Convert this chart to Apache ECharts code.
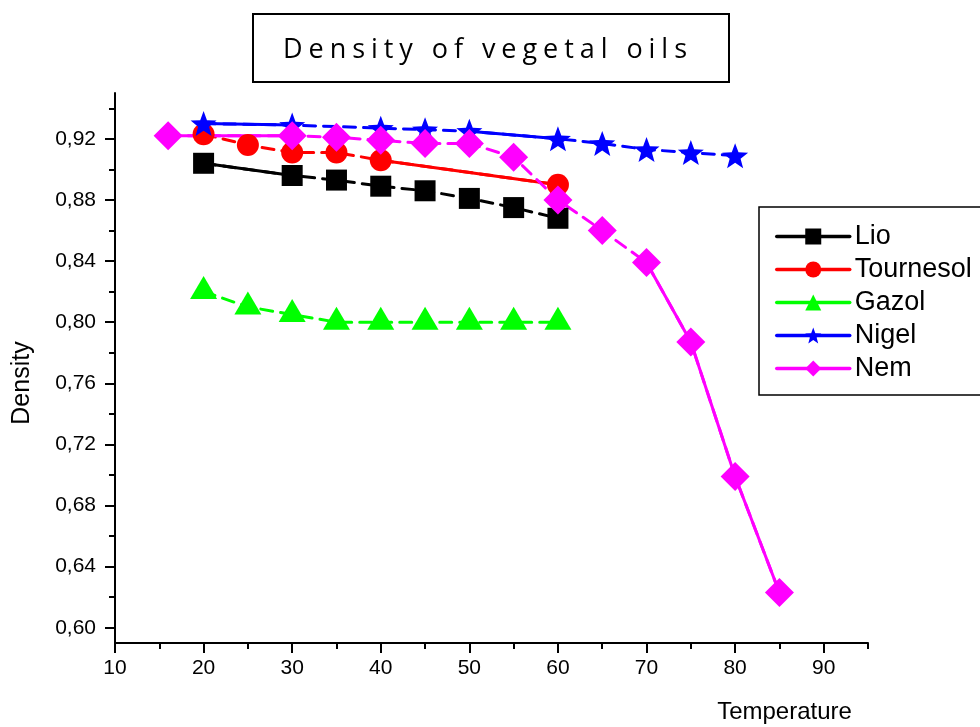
<!DOCTYPE html>
<html>
<head>
<meta charset="utf-8">
<script src="https://cdn.jsdelivr.net/npm/echarts@6/dist/echarts.min.js"></script>
<style>
html,body{margin:0;padding:0;background:#fff;}
#chart{width:980px;height:727px;}
</style>
</head>
<body>
<div id="chart"></div>
<script>
// ---- data ----
const seriesNames = ['Lio', 'Tournesol', 'Gazol', 'Nigel', 'Nem'];
const lioT  = [20, 30, 35, 40, 45, 50, 55, 60];
const lioD  = [0.904, 0.896, 0.893, 0.889, 0.886, 0.881, 0.875, 0.868];
const tourT = [20, 25, 30, 35, 40, 60];
const tourD = [0.923, 0.916, 0.911, 0.911, 0.906, 0.890];
const gazT  = [20, 25, 30, 35, 40, 45, 50, 55, 60];
const gazD  = [0.820, 0.810, 0.805, 0.800, 0.800, 0.800, 0.800, 0.800, 0.800];
const nigT  = [20, 30, 40, 45, 50, 60, 65, 70, 75, 80];
const nigD  = [0.930, 0.929, 0.927, 0.926, 0.925, 0.920, 0.917, 0.913, 0.911, 0.909];
const nemT  = [16, 30, 35, 40, 45, 50, 55, 60, 65, 70, 75, 80, 85];
const nemD  = [0.922, 0.922, 0.921, 0.919, 0.917, 0.917, 0.908, 0.880, 0.860, 0.839, 0.787, 0.699, 0.623];

const xTicks = [10, 20, 30, 40, 50, 60, 70, 80, 90];
const xMinorTicks = [15, 25, 35, 45, 55, 65, 75, 85, 95];
const yTicks = [0.60, 0.64, 0.68, 0.72, 0.76, 0.80, 0.84, 0.88, 0.92];
const yMinorTicks = [0.62, 0.66, 0.70, 0.74, 0.78, 0.82, 0.86, 0.90, 0.94];

const titleText = 'Density of vegetal oils';
const xName = 'Temperature';
const yName = 'Density';

// ---- styles ----
const STAR = 'path://M50 0L62.34 33.01L97.55 34.55L69.97 56.49L79.39 90.45L50 71L20.61 90.45L30.03 56.49L2.45 34.55L37.66 33.01Z';
const styleMap = {
  Lio:       {color: '#000000', symbol: 'rect',     size: 21,       offset: [0, 0],  solid: [[20, 30]]},
  Tournesol: {color: '#ff0000', symbol: 'circle',   size: 22,       offset: [0, 0],  solid: [[40, 60]]},
  Gazol:     {color: '#00ff00', symbol: 'triangle', size: [27, 23], offset: [0, -4], solid: []},
  Nigel:     {color: '#0000ff', symbol: STAR,       size: [26, 25], offset: [0, 0],  solid: [[20, 30], [50, 60]]},
  Nem:       {color: '#ff00ff', symbol: 'diamond',  size: 29,       offset: [0, 0],  solid: [[16, 30], [70, 85]]}
};
const dataMap = {
  Lio: [lioT, lioD], Tournesol: [tourT, tourD], Gazol: [gazT, gazD], Nigel: [nigT, nigD], Nem: [nemT, nemD]
};

// letter-spaced title (canvas letterSpacing on the single title string)
const titleFont = '27px "Open Sans"';
const titleTargetWidth = 404;
let titleSpacing = 0;
(function () {
  const c = document.createElement('canvas').getContext('2d');
  c.font = titleFont;
  const w = c.measureText(titleText).width;
  titleSpacing = Math.max(0, (titleTargetWidth - w) / (titleText.length - 1));
  const proto = CanvasRenderingContext2D.prototype;
  ['fillText', 'strokeText'].forEach(function (fn) {
    const orig = proto[fn];
    proto[fn] = function (t) {
      if (t === titleText && 'letterSpacing' in this) {
        const prev = this.letterSpacing;
        this.letterSpacing = titleSpacing + 'px';
        const r = orig.apply(this, arguments);
        this.letterSpacing = prev;
        return r;
      }
      return orig.apply(this, arguments);
    };
  });
})();

const zip = (xs, ys) => xs.map((x, i) => [x, ys[i]]);

const series = [];
seriesNames.forEach(name => {
  const s = styleMap[name];
  const [T, D] = dataMap[name];
  series.push({
    type: 'line', name: name, data: zip(T, D),
    xAxisIndex: 0, yAxisIndex: 0,
    symbol: s.symbol, symbolSize: s.size, symbolOffset: s.offset,
    showAllSymbol: true,
    lineStyle: {color: s.color, width: 3, type: [12, 8], cap: 'round'},
    itemStyle: {color: s.color},
    emphasis: {disabled: true},
    z: 3
  });
});
seriesNames.forEach(name => {
  const s = styleMap[name];
  const [T, D] = dataMap[name];
  s.solid.forEach(seg => {
    const pts = zip(T, D).filter(p => p[0] >= seg[0] && p[0] <= seg[1]);
    series.push({
      type: 'line', name: name, data: pts,
      xAxisIndex: 0, yAxisIndex: 0,
      symbol: 'none', silent: true,
      lineStyle: {color: s.color, width: 3, type: 'solid', cap: 'round'},
      emphasis: {disabled: true},
      z: 2
    });
  });
});

const axisFont = 'Liberation Sans';
const chart = echarts.init(document.getElementById('chart'), null, {renderer: 'canvas'});
chart.setOption({
  animation: false,
  backgroundColor: '#ffffff',
  grid: {left: 115, right: 112, top: 93, bottom: 84, containLabel: false, outerBoundsMode: 'none'},
  graphic: [
    {type: 'rect', shape: {x: 253, y: 14, width: 476, height: 68},
     style: {fill: '#ffffff', stroke: '#000000', lineWidth: 2}, silent: true, z: 10},
    {type: 'text', x: 283, y: 50, silent: true, z: 11,
     style: {text: titleText, font: titleFont, fill: '#000000', align: 'left', verticalAlign: 'middle'}}
  ],
  legend: {
    data: seriesNames,
    orient: 'vertical',
    left: 759, top: 207,
    padding: [16, 14, 13, 16],
    itemWidth: 73, itemHeight: 20, itemGap: 6,
    borderColor: '#000000', borderWidth: 1.5, backgroundColor: '#ffffff',
    lineStyle: {type: 'solid', width: 3.5},
    textStyle: {fontFamily: axisFont, fontSize: 27, color: '#000000'},
    selectedMode: false
  },
  xAxis: [
    {type: 'value', position: 'bottom', min: 10, max: 95,
     name: xName, nameLocation: 'middle', nameGap: 57,
     nameTextStyle: {fontFamily: axisFont, fontSize: 24, color: '#000000', padding: [0, 0, 0, 586]},
     axisLine: {show: true, lineStyle: {color: '#000000', width: 2}},
     axisTick: {show: true, inside: false, length: 10, customValues: xTicks, lineStyle: {color: '#000000', width: 2}},
     axisLabel: {show: true, customValues: xTicks, margin: 15, fontFamily: axisFont, fontSize: 21, color: '#000000'},
     splitLine: {show: false}},
    {type: 'value', position: 'bottom', min: 10, max: 95,
     axisLine: {show: false},
     axisTick: {show: true, inside: false, length: 6, customValues: xMinorTicks, lineStyle: {color: '#000000', width: 2}},
     axisLabel: {show: false},
     splitLine: {show: false}}
  ],
  yAxis: [
    {type: 'value', position: 'left', min: 0.59, max: 0.95,
     name: yName, nameLocation: 'middle', nameGap: 80,
     nameTextStyle: {fontFamily: axisFont, fontSize: 25, color: '#000000', padding: [0, 30, 0, 0]},
     axisLine: {show: true, lineStyle: {color: '#000000', width: 2}},
     axisTick: {show: true, inside: false, length: 10, customValues: yTicks, lineStyle: {color: '#000000', width: 2}},
     axisLabel: {show: true, customValues: yTicks, margin: 19, fontFamily: axisFont, fontSize: 21, color: '#000000',
                 formatter: v => v.toFixed(2).replace('.', ',')},
     splitLine: {show: false}},
    {type: 'value', position: 'left', min: 0.59, max: 0.95,
     axisLine: {show: false},
     axisTick: {show: true, inside: false, length: 6, customValues: yMinorTicks, lineStyle: {color: '#000000', width: 2}},
     axisLabel: {show: false},
     splitLine: {show: false}}
  ],
  series: series
});
</script>
</body>
</html>
